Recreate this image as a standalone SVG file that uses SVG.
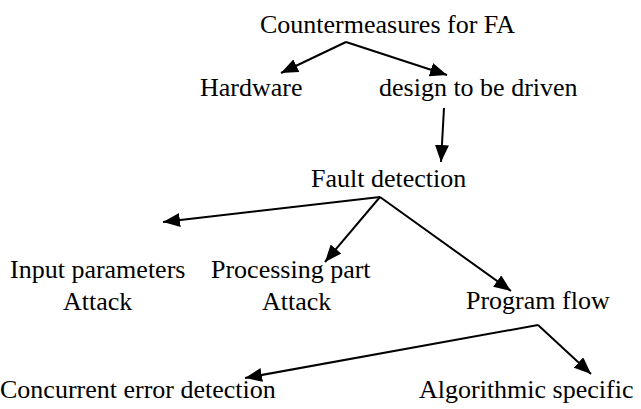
<svg xmlns="http://www.w3.org/2000/svg" width="641" height="409" viewBox="0 0 641 409" font-family="Liberation Serif, DejaVu Serif, serif" font-size="26">
<style>
text{font-family:'Liberation Serif','DejaVu Serif',serif;font-size:26px;fill:#000}
.c line{stroke:#000;stroke-width:2;marker-end:url(#ah)}
</style>
<defs>
<marker id="ah" markerUnits="userSpaceOnUse" markerWidth="18" markerHeight="14" refX="17" refY="7" orient="auto">
<path d="M0,0 L17,7 L0,14 Z" fill="#000"/>
</marker>
</defs>
<rect width="641" height="409" fill="#fff"/>
<g id="n-title"><text x="260" y="33">Countermeasures for FA</text></g>
<g id="n-hardware"><text x="200" y="96">Hardware</text></g>
<g id="n-design"><text x="379" y="96">design to be driven</text></g>
<g id="n-fault"><text x="311" y="187">Fault detection</text></g>
<g id="n-input"><text x="10" y="278">Input parameters</text><text x="63" y="310">Attack</text></g>
<g id="n-processing"><text x="211" y="278">Processing part</text><text x="262" y="310">Attack</text></g>
<g id="n-program"><text x="466" y="309">Program flow</text></g>
<g id="n-concurrent"><text x="0" y="398">Concurrent error detection</text></g>
<g id="n-algorithmic"><text x="419" y="398">Algorithmic specific</text></g>
<g id="connectors" class="c">
<line x1="346" y1="42" x2="281" y2="73"/>
<line x1="346" y1="42" x2="447" y2="75"/>
<line x1="444" y1="108" x2="441" y2="162"/>
<line x1="380" y1="197" x2="163" y2="222"/>
<line x1="380" y1="197" x2="325" y2="262"/>
<line x1="380" y1="197" x2="511" y2="291"/>
<line x1="538" y1="325" x2="245" y2="378"/>
<line x1="538" y1="325" x2="591" y2="374"/>
</g>
</svg>
